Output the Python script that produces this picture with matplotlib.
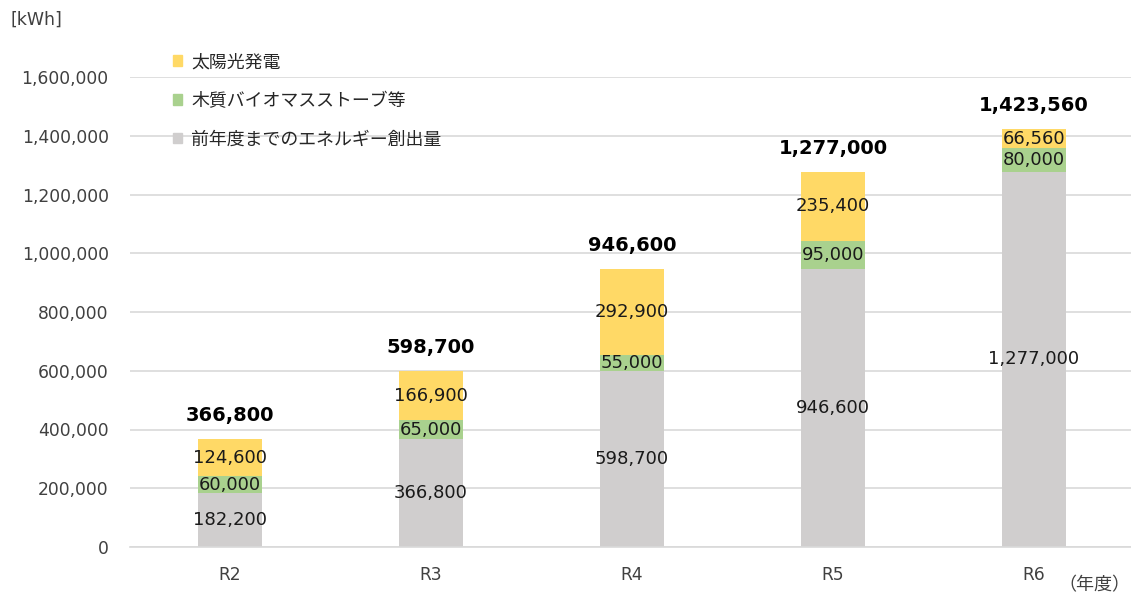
import numpy as np
import matplotlib.pyplot as plt
from matplotlib.patches import Patch
from matplotlib.ticker import FuncFormatter

plt.rcParams['font.family'] = ['DejaVu Sans', 'Noto Sans CJK JP']

years = ['R2', 'R3', 'R4', 'R5', 'R6']
prior = [182200, 366800, 598700, 946600, 1277000]
biomass = [60000, 65000, 55000, 95000, 80000]
solar = [124600, 166900, 292900, 235400, 66560]

labels = ['前年度までのエネルギー創出量', '木質バイオマスストーブ等', '太陽光発電']
colors = ['#D0CECE', '#A9D18E', '#FFD966']

fig = plt.figure(figsize=(11.31, 5.99), dpi=100)
ax = fig.add_axes([129.5 / 1131, 1 - 547 / 599, 1005 / 1131, 470 / 599])

x = np.arange(len(years))
w = 0.315
bottom = np.zeros(len(years))
for vals, c in zip([prior, biomass, solar], colors):
    vals = np.array(vals)
    ax.bar(x, vals, w, bottom=bottom, color=c, zorder=2)
    for xi, b, v in zip(x, bottom, vals):
        ax.text(xi, b + v / 2, f'{v:,}', ha='center', va='center',
                fontsize=13, color='#1a1a1a', zorder=3)
    bottom = bottom + vals

for xi, t in zip(x, bottom):
    ax.annotate(f'{int(t):,}', (xi, t), xytext=(0, 10), textcoords='offset points',
                ha='center', va='bottom', fontsize=14, fontweight='bold')

ax.set_xlim(-0.5, 4.5)
ax.set_ylim(0, 1600000)
ax.set_yticks(np.arange(0, 1600001, 200000))
ax.yaxis.set_major_formatter(FuncFormatter(lambda v, p: f'{int(v):,}'))
ax.set_xticks(x)
ax.set_xticklabels(years)
ax.tick_params(length=0, labelsize=12.3, colors='#404040', pad=14)
ax.tick_params(axis='y', pad=15)
ax.grid(axis='y', color='#D9D9D9', linewidth=1.2, zorder=0)
for s in ['top', 'right', 'left']:
    ax.spines[s].set_visible(False)
ax.spines['bottom'].set_color('#D9D9D9')
ax.spines['bottom'].set_linewidth(1.2)

handles = [Patch(color=c) for c in colors[::-1]]
leg = ax.legend(handles, labels[::-1], loc='upper left', bbox_to_anchor=(27 / 1005, 1.085),
                frameon=False, fontsize=12.9, handlelength=0.55, handleheight=0.55,
                handletextpad=0.5, labelspacing=1.15)
for t in leg.get_texts():
    t.set_color('#262626')

fig.text(1094 / 1131, 1 - 585 / 599, '（年度）', fontsize=13, color='#404040',
         va='center', ha='center', family=['Noto Sans CJK JP'])
fig.text(10 / 1131, 1 - 20 / 599, '[kWh]', fontsize=12.5, color='#404040', va='center')

fig.savefig('out.png')
